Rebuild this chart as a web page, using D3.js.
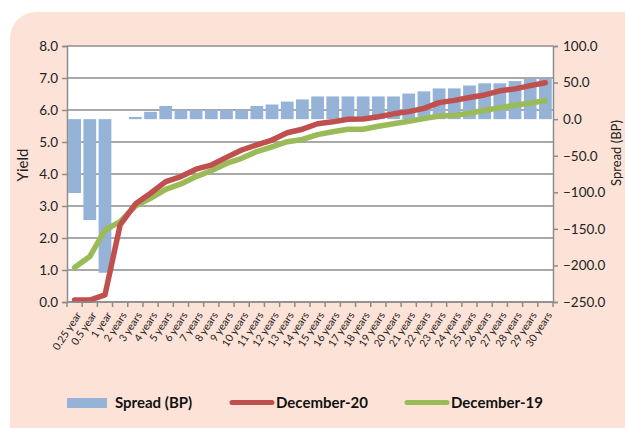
<!DOCTYPE html>
<html>
<head>
<meta charset="utf-8">
<script src="https://cdn.jsdelivr.net/npm/d3@7"></script>
<style>
  html, body { margin: 0; padding: 0; background: #ffffff; }
  svg { display: block; font-family: Lato, "Open Sans", sans-serif; }
</style>
</head>
<body>
<svg id="chart" width="625" height="428"></svg>
<script>
const categories = ["0.25 year","0.5 year","1 year","2 years","3 years","4 years","5 years","6 years","7 years","8 years","9 years","10 years","11 years","12 years","13 years","14 years","15 years","16 years","17 years","18 years","19 years","20 years","21 years","22 years","23 years","24 years","25 years","26 years","27 years","28 years","29 years","30 years"];
const spread = [-101,-138,-210,0,3,10,18,13,13,13,13,13,18,20,24,27,31,31,31,31,31,31,35,38,42,42,46,49,49,52,55,55];
const dec20 = [0.06,0.06,0.22,2.41,3.06,3.40,3.76,3.92,4.15,4.28,4.52,4.75,4.91,5.06,5.29,5.40,5.57,5.63,5.71,5.72,5.79,5.88,5.95,6.05,6.23,6.30,6.39,6.47,6.60,6.66,6.76,6.85];
const dec19 = [1.08,1.42,2.25,2.51,3.00,3.24,3.52,3.69,3.92,4.10,4.33,4.49,4.70,4.85,5.01,5.08,5.23,5.32,5.40,5.40,5.49,5.57,5.65,5.73,5.81,5.83,5.90,5.99,6.07,6.15,6.22,6.29];
const yieldTicks = [0,1,2,3,4,5,6,7,8];
const spreadTicks = [-250,-200,-150,-100,-50,0,50,100];
const seriesNames = ["Spread (BP)","December-20","December-19"];

const colors = { bar: "#95b3d7", red: "#c0504d", green: "#9bbb59", grid: "#8c8c8c", bg: "#fde3d7" };
const svg = d3.select("#chart");
const m = { left: 67, right: 553, top: 46, bottom: 302 };

// background panel
svg.append("rect").attr("x", 10).attr("y", 12).attr("width", 640).attr("height", 440)
  .attr("rx", 26).attr("fill", colors.bg);
svg.append("rect").attr("x", m.left).attr("y", m.top).attr("width", m.right - m.left)
  .attr("height", m.bottom - m.top).attr("fill", "#ffffff");

const x = d3.scaleBand().domain(categories).range([m.left, m.right]).paddingInner(0.16).paddingOuter(0.08);
const xc = d => x(d) + x.bandwidth() / 2;
const yL = d3.scaleLinear().domain([0, 8]).range([m.bottom, m.top]);
const yR = d3.scaleLinear().domain([-250, 100]).range([m.bottom, m.top]);

// gridlines
svg.append("g").selectAll("line").data(yieldTicks).join("line")
  .attr("x1", m.left).attr("x2", m.right).attr("y1", d => yL(d)).attr("y2", d => yL(d))
  .attr("stroke", colors.grid).attr("stroke-width", 1.3);

// bars
svg.append("g").selectAll("rect").data(categories).join("rect")
  .attr("x", d => x(d)).attr("width", x.bandwidth())
  .attr("y", (d, i) => Math.min(yR(0), yR(spread[i])))
  .attr("height", (d, i) => Math.abs(yR(spread[i]) - yR(0)))
  .attr("fill", colors.bar);

// lines
const line = d3.line().x((d, i) => xc(categories[i])).y(d => yL(d));
svg.append("path").datum(dec19).attr("d", line).attr("fill", "none")
  .attr("stroke", colors.green).attr("stroke-width", 5.5).attr("stroke-linecap", "round").attr("stroke-linejoin", "round");
svg.append("path").datum(dec20).attr("d", line).attr("fill", "none")
  .attr("stroke", colors.red).attr("stroke-width", 5.5).attr("stroke-linecap", "round").attr("stroke-linejoin", "round");

// axes
const axisStyle = g => {
  g.select(".domain").attr("stroke", colors.grid).attr("stroke-width", 1.5);
  g.selectAll(".tick line").attr("stroke", colors.grid).attr("stroke-width", 1.5);
  g.selectAll("text").attr("fill", "#222").style("font-family", "Lato, 'Open Sans', sans-serif");
};
svg.append("g").attr("transform", `translate(${m.left},0)`)
  .call(d3.axisLeft(yL).tickValues(yieldTicks).tickFormat(d3.format(".1f")).tickSizeOuter(0).tickSize(5).tickPadding(4))
  .call(axisStyle).selectAll("text").style("font-size", "13.5px");
svg.append("g").attr("transform", `translate(${m.right},0)`)
  .call(d3.axisRight(yR).tickValues(spreadTicks).tickFormat(d3.format(".1f")).tickSizeOuter(0).tickSize(5).tickPadding(5))
  .call(axisStyle).selectAll("text").style("font-size", "13.5px");

// bottom axis
const bx = svg.append("g");
bx.append("line").attr("x1", m.left).attr("x2", m.right).attr("y1", m.bottom).attr("y2", m.bottom)
  .attr("stroke", colors.grid).attr("stroke-width", 1.5);
const edges = d3.range(categories.length + 1).map(i => m.left + (m.right - m.left) * i / categories.length);
bx.selectAll("line.t").data(edges).join("line").attr("class", "t")
  .attr("x1", d => d).attr("x2", d => d).attr("y1", m.bottom).attr("y2", m.bottom + 5)
  .attr("stroke", colors.grid).attr("stroke-width", 1.5);
bx.selectAll("text").data(categories).join("text")
  .attr("transform", d => `translate(${xc(d) + 4},${m.bottom + 11}) rotate(-57)`)
  .attr("text-anchor", "end").attr("dy", "0.35em")
  .style("font-size", "10.5px").attr("fill", "#222").text(d => d);

// axis titles
svg.append("text").attr("transform", "translate(28,165) rotate(-90)").attr("text-anchor", "middle")
  .style("font-size", "15px").attr("fill", "#222").text("Yield");
svg.append("text").attr("transform", "translate(621,153) rotate(-90)").attr("text-anchor", "middle")
  .style("font-size", "13px").attr("fill", "#222").text("Spread (BP)");

// legend
const lg = svg.append("g").style("font-weight", "bold").style("font-size", "15px").attr("fill", "#111");
lg.append("rect").attr("x", 67).attr("y", 398).attr("width", 40).attr("height", 10).attr("fill", colors.bar);
lg.append("text").attr("x", 115).attr("y", 408).text(seriesNames[0]);
lg.append("line").attr("x1", 232).attr("x2", 272).attr("y1", 402.5).attr("y2", 402.5)
  .attr("stroke", colors.red).attr("stroke-width", 5).attr("stroke-linecap", "round");
lg.append("text").attr("x", 276).attr("y", 408).text(seriesNames[1]);
lg.append("line").attr("x1", 407).attr("x2", 447).attr("y1", 402.5).attr("y2", 402.5)
  .attr("stroke", colors.green).attr("stroke-width", 5).attr("stroke-linecap", "round");
lg.append("text").attr("x", 451).attr("y", 408).text(seriesNames[2]);
</script>
</body>
</html>
